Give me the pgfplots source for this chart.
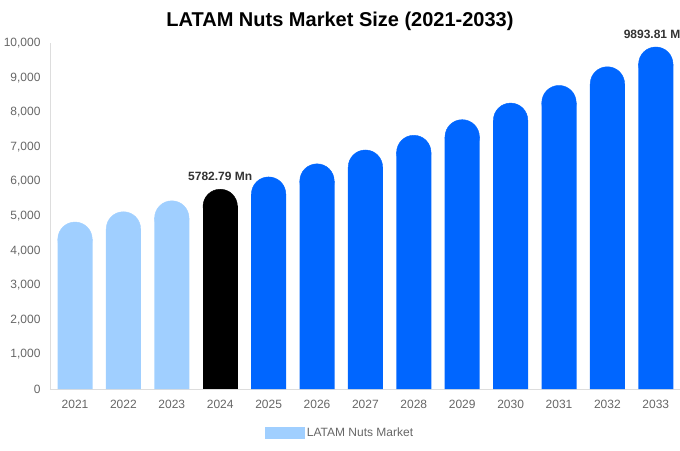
\documentclass[border=0pt]{standalone}
\usepackage{pgfplots}
\pgfplotsset{compat=1.18}
\usepackage{pgfplotstable}
\usepackage{fontspec}
\setmainfont{Liberation Sans}

\definecolor{lightbar}{HTML}{A0CFFF}
\definecolor{bluebar}{HTML}{0066FF}
\definecolor{ticktext}{HTML}{666666}
\definecolor{labeltext}{HTML}{333333}
\definecolor{axisline}{HTML}{DDDDDD}

% market size, million
\pgfplotstableread{
x v
0 4835
1 5132
2 5448
}\pastdata
\pgfplotstableread{
x v
3 5782.79
}\basedata
\pgfplotstableread{
x v
4 6138
5 6516
6 6917
7 7342
8 7793
9 8273
10 8782
11 9322
12 9893.81
}\forecastdata

% bar body stops one cap radius (17.5pt = 506 units) below the value,
% a round cap sits on top
\pgfplotsset{
    body/.style={ybar, bar width=35pt, bar shift=0pt, fill=#1, draw=none},
    cap/.style={only marks, color=#1, mark=*, mark size=17.2pt,
        mark options={draw=none, fill=#1, yshift=-17.5pt}},
}

\begin{document}
\begin{tikzpicture}
\path[use as bounding box] (0,0) rectangle (680pt,450pt);
\begin{axis}[
    at={(50pt,61pt)}, anchor=south west,
    scale only axis,
    width=630pt, height=346pt,
    xmin=-0.517, xmax=12.5,
    ymin=0, ymax=10000,
    axis x line*=bottom, axis y line*=left,
    axis line style={axisline, line width=0.8pt},
    xtick={0,...,12},
    xticklabels={2021,2022,2023,2024,2025,2026,2027,2028,2029,2030,2031,2032,2033},
    ytick={0,1000,...,10000},
    scaled y ticks=false,
    major tick length=0pt,
    tick label style={font=\fontsize{12}{14}\selectfont, text=ticktext},
    yticklabel style={xshift=-6pt, /pgf/number format/1000 sep={,}},
    xticklabel style={yshift=-8pt},
    /pgf/number format/assume math mode=true,
    clip=false,
    legend style={draw=none, fill=none, at={(0.4603,-0.127)}, anchor=center,
        font=\fontsize{12}{14}\selectfont, text=ticktext},
]
\addplot[body=lightbar,
    legend image code/.code={\fill[lightbar] (0pt,-6pt) rectangle (40pt,6pt);}]
    table[x=x, y expr=\thisrow{v}-506] {\pastdata};
\addlegendentry{LATAM Nuts Market}
\addplot[cap=lightbar, forget plot] table[x=x, y=v] {\pastdata};

\addplot[body=black, forget plot] table[x=x, y expr=\thisrow{v}-506] {\basedata};
\addplot[cap=black, forget plot] table[x=x, y=v] {\basedata};

\addplot[body=bluebar, forget plot] table[x=x, y expr=\thisrow{v}-506] {\forecastdata};
\addplot[cap=bluebar, forget plot] table[x=x, y=v] {\forecastdata};

% value labels
\addplot[draw=none, mark=none, forget plot,
    nodes near coords, point meta=explicit symbolic,
    nodes near coords style={font=\bfseries\fontsize{12}{14}\selectfont,
        text=labeltext, anchor=south, yshift=5pt}]
    coordinates {(3,5782.79) [5782.79 Mn] (12,9893.81) [9893.81 Mn]};
\end{axis}
\node[font=\bfseries\fontsize{20}{24}\selectfont] at (340pt,429pt)
    {LATAM Nuts Market Size (2021-2033)};
\end{tikzpicture}
\end{document}
